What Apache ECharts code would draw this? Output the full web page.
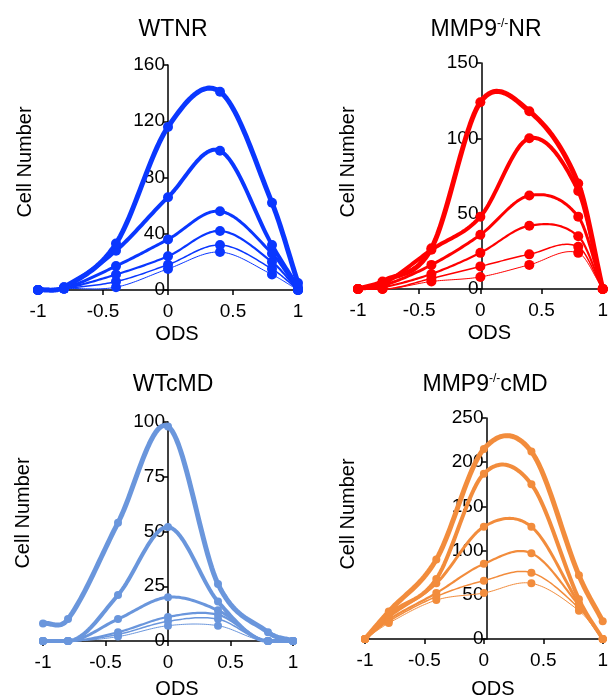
<!DOCTYPE html>
<html>
<head>
<meta charset="utf-8">
<script src="https://cdn.jsdelivr.net/npm/echarts@6/dist/echarts.min.js"></script>
<style>
  html, body { margin: 0; padding: 0; background: #fff; }
  #main { width: 611px; height: 700px; }
</style>
</head>
<body>
<div id="main"></div>
<script>
// ODS positions shared by every panel
var odsValues = [-1, -0.8, -0.4, 0, 0.4, 0.8, 1];

// cell numbers, one row per line (thickest first)
var wtNR = [
    [0, 2, 33, 116, 141, 62, 5],
    [0, 2, 28, 66, 99, 32, 2],
    [0, 1, 17, 36, 56, 26, 0],
    [0, 1, 11, 24, 42, 20, 0],
    [0, 1, 6, 18, 32, 15, 0],
    [0, 1, 2, 15, 27, 11, 0]
];
var mmpNR = [
    [0, 5, 27, 124, 118, 70, 0],
    [0, 3, 26, 48, 100, 65, 0],
    [0, 2, 16, 36, 62, 48, 0],
    [0, 1, 10, 24, 42, 35, 0],
    [0, 0, 7, 15, 23, 28, 0],
    [0, 0, 5, 8, 16, 24, 0]
];
var wtCMD = [
    [8, 10, 54, 98, 26, 4, 0],
    [0, 0, 21, 52, 18, 0, 0],
    [0, 0, 10, 20, 14, 0, 0],
    [0, 0, 4, 11, 12, 0, 0],
    [0, 0, 3, 9, 10, 0, 0],
    [0, 0, 2, 7, 7, 0, 0]
];
var mmpCMD = [
    [0, 31, 90, 215, 212, 72, 20],
    [0, 28, 68, 187, 175, 45, 0],
    [0, 25, 63, 127, 127, 40, 0],
    [0, 22, 52, 85, 97, 38, 0],
    [0, 20, 48, 66, 75, 35, 0],
    [0, 18, 44, 52, 63, 32, 0]
];

var lineWidths = [5, 4, 3, 2.2, 1.5, 1];
var font = 'Liberation Sans';

var panels = [
    { title: 'WTNR', data: wtNR, color: '#0a37ff', max: 160, step: 40, sym: 10,
      grid: { left: 38, top: 65, width: 260, height: 225 }, tx: 168, ty: 13, nx: 25, ny: 162, gap: 34 },
    { title: 'MMP9{sup|-/-}NR', data: mmpNR, color: '#ff0000', max: 150, step: 50, sym: 10,
      grid: { left: 358, top: 63, width: 247, height: 226 }, tx: 481, ty: 13, nx: 348, ny: 162, gap: 34 },
    { title: 'WTcMD', data: wtCMD, color: '#6a96dc', max: 100, step: 25, sym: 8,
      grid: { left: 43, top: 422, width: 250, height: 223 }, tx: 168, ty: 368, nx: 23, ny: 513, gap: 38 },
    { title: 'MMP9{sup|-/-}cMD', data: mmpCMD, color: '#f28c3c', max: 250, step: 50, sym: 8,
      grid: { left: 365, top: 418, width: 243, height: 224 }, tx: 480, ty: 368, nx: 348, ny: 514, gap: 40 }
];

// smooth curve through the converted points (cubic hermite, slopes from neighbours);
// a point resting on zero next to another zero gets a flat tangent
function curvePoints(pts, row) {
    var n = pts.length, m = [], out = [];
    for (var i = 0; i < n; i++) {
        var a = pts[Math.max(i - 1, 0)], b = pts[Math.min(i + 1, n - 1)];
        var flat = row[i] === 0 && ((i > 0 && row[i - 1] === 0) || (i < n - 1 && row[i + 1] === 0));
        m.push(flat ? 0 : (b[1] - a[1]) / (b[0] - a[0]));
    }
    for (var i = 0; i < n - 1; i++) {
        var x0 = pts[i][0], y0 = pts[i][1], x1 = pts[i + 1][0], y1 = pts[i + 1][1];
        var h = x1 - x0;
        for (var s = 0; s <= 24; s++) {
            var t = s / 24, t2 = t * t, t3 = t2 * t;
            var y = (2 * t3 - 3 * t2 + 1) * y0 + (t3 - 2 * t2 + t) * h * m[i] +
                (-2 * t3 + 3 * t2) * y1 + (t3 - t2) * h * m[i + 1];
            out.push([x0 + h * t, y]);
        }
    }
    return out;
}

var option = {
    backgroundColor: '#fff',
    animation: false,
    title: [],
    grid: [],
    xAxis: [],
    yAxis: [],
    series: [],
    graphic: []
};

panels.forEach(function(p, i) {
    option.title.push({
        text: p.title,
        left: p.tx,
        top: p.ty,
        textAlign: 'center',
        textStyle: {
            fontFamily: font, fontSize: 23, fontWeight: 'normal', color: '#000',
            rich: { sup: { fontFamily: font, fontSize: 12, color: '#000', verticalAlign: 'top', padding: [0, 0, 10, 0] } }
        }
    });
    option.grid.push(p.grid);
    option.xAxis.push({
        type: 'value',
        gridIndex: i,
        min: -1,
        max: 1,
        interval: 0.5,
        name: 'ODS',
        nameLocation: 'middle',
        nameGap: p.gap,
        nameTextStyle: { fontFamily: font, fontSize: 20, color: '#000', padding: [0, 0, 0, 18] },
        axisLine: { onZero: false, lineStyle: { color: '#000', width: 1.5 } },
        axisTick: { show: true, length: 5, lineStyle: { color: '#000', width: 1.5 } },
        axisLabel: { fontFamily: font, fontSize: 19, color: '#000', margin: 12 },
        splitLine: { show: false }
    });
    option.yAxis.push({
        type: 'value',
        gridIndex: i,
        min: 0,
        max: p.max,
        interval: p.step,
        offset: -p.grid.width / 2,
        axisLine: { show: true, onZero: false, lineStyle: { color: '#000', width: 1.5 } },
        axisTick: { show: true, length: 5, lineStyle: { color: '#000', width: 1.5 } },
        axisLabel: { fontFamily: font, fontSize: 19, color: '#000', margin: 3, showMinLabel: true, showMaxLabel: true },
        splitLine: { show: false }
    });
    option.graphic.push({
        type: 'text',
        x: p.nx,
        y: p.ny,
        rotation: Math.PI / 2,
        style: {
            text: 'Cell Number',
            font: '20px "Liberation Sans"',
            fill: '#000',
            align: 'center',
            verticalAlign: 'middle'
        }
    });
    p.data.forEach(function(row, k) {
        var pairs = odsValues.map(function(x, j) { return [x, row[j]]; });
        option.series.push({
            type: 'custom',
            xAxisIndex: i,
            yAxisIndex: i,
            z: 10 - k,
            data: [pairs[0]],
            renderItem: function(params, api) {
                var px = pairs.map(function(d) { return api.coord(d); });
                return {
                    type: 'polyline',
                    shape: { points: curvePoints(px, row) },
                    style: { stroke: p.color, lineWidth: lineWidths[k], fill: null, lineJoin: 'round', lineCap: 'round' }
                };
            }
        });
        option.series.push({
            type: 'scatter',
            xAxisIndex: i,
            yAxisIndex: i,
            z: 20 - k,
            symbol: 'circle',
            symbolSize: p.sym,
            itemStyle: { color: p.color, opacity: 1 },
            data: pairs
        });
    });
});

var chart = echarts.init(document.getElementById('main'), null, { renderer: 'canvas' });
chart.setOption(option);
</script>
</body>
</html>
